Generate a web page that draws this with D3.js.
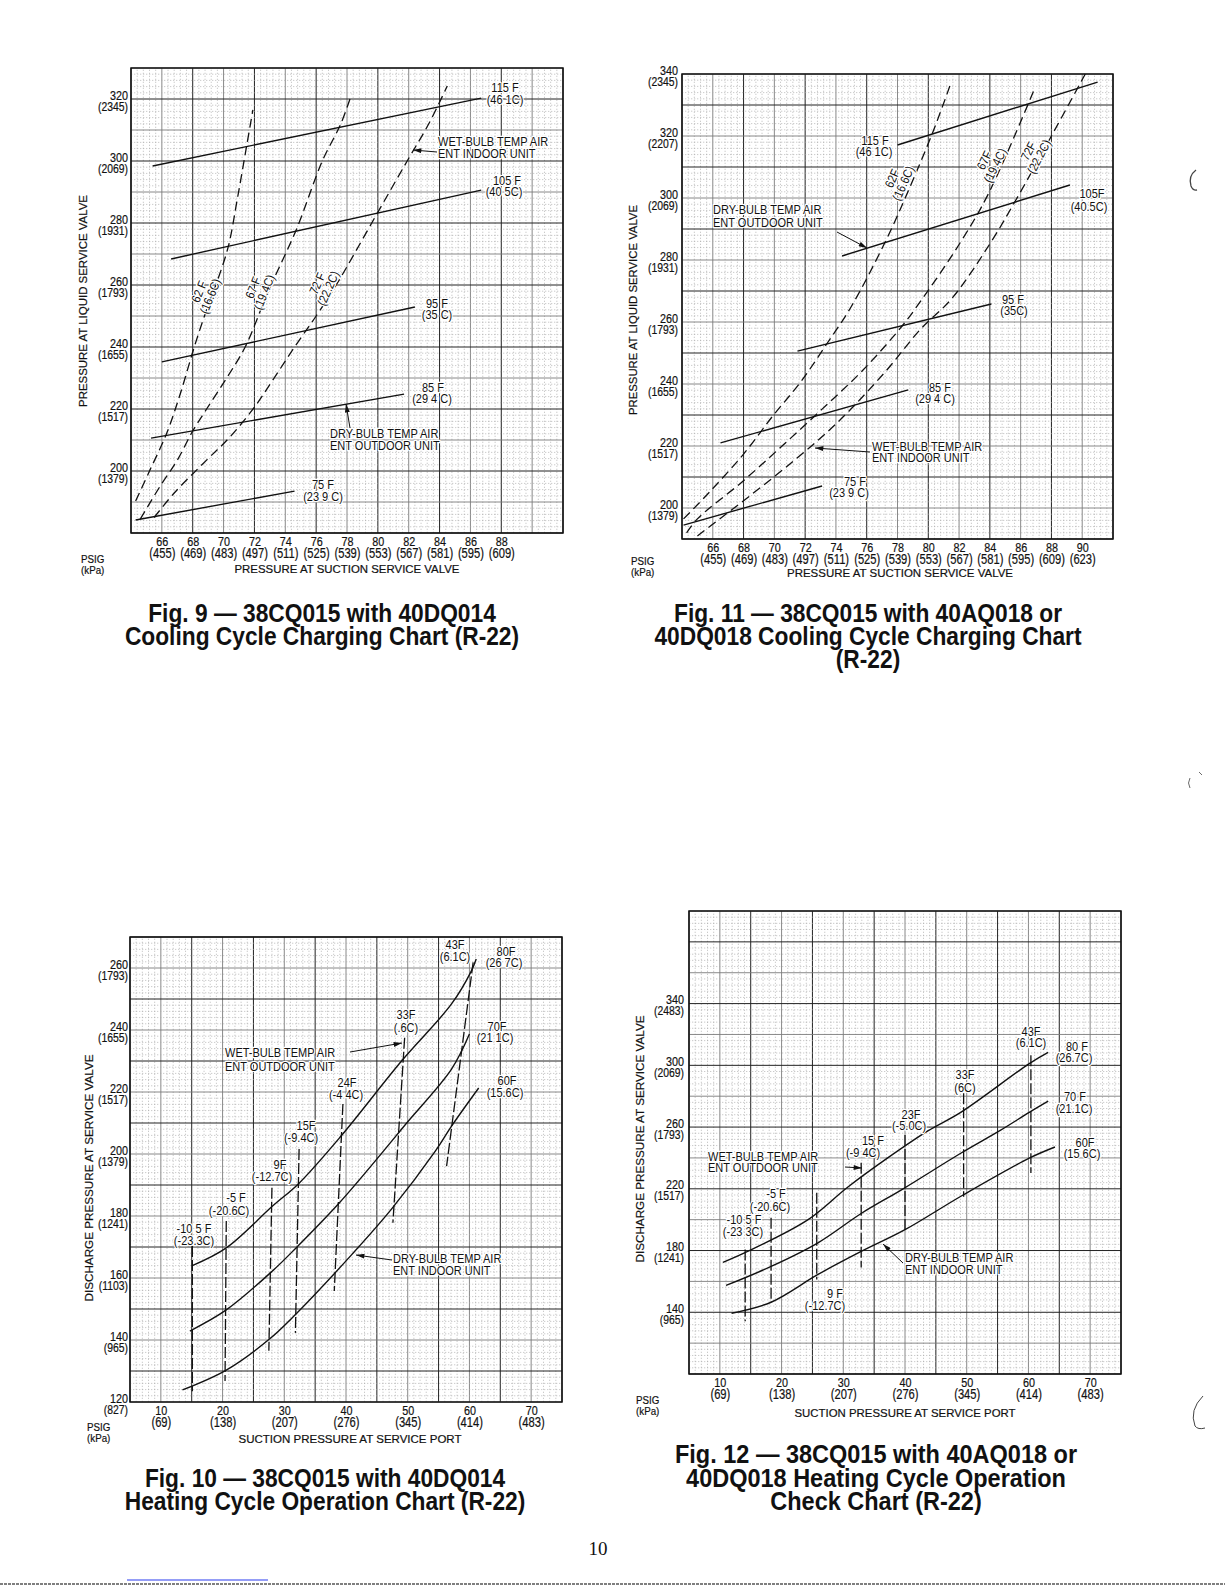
<!DOCTYPE html>
<html>
<head>
<meta charset="utf-8">
<script src="https://cdn.jsdelivr.net/npm/d3@7"></script>
<style>
body { margin: 0; background: #fff; }
svg { display: block; }
text { font-family: "Liberation Sans", Arial, Helvetica, sans-serif; fill: #111; }
.fine { stroke: #a8a8a8; stroke-width: 0.6; stroke-dasharray: 1.3 1.7; }
.mid { stroke: #7c7c7c; stroke-width: 0.9; }
.major { stroke: #222; stroke-width: 1; }
.frame { fill: none; stroke: #111; stroke-width: 1.5; }
.solid { fill: none; stroke: #111; stroke-width: 1.4; }
.dash { fill: none; stroke: #111; stroke-width: 1.3; stroke-dasharray: 9 5; }
.vdash { fill: none; stroke: #111; stroke-width: 1.3; stroke-dasharray: 11 3; }
.arrow { fill: none; stroke: #111; stroke-width: 1; }
.tick-num { font-size: 13.5px; stroke: #111; stroke-width: 0.2px; }
.tick-kpa { font-size: 13px; stroke: #111; stroke-width: 0.2px; }
.xk { font-size: 14px; }
.note { font-size: 12.5px; paint-order: stroke; stroke: #fff; stroke-width: 2.5px; stroke-linejoin: round; }
.title { font-size: 11.5px; stroke: #111; stroke-width: 0.2px; }
.psig { font-size: 11.5px; stroke: #111; stroke-width: 0.2px; }
.caption { font-size: 25px; font-weight: bold; }
</style>
</head>
<body>
<svg id="page"></svg>
<script>
// ---------- Fig. 9 : 38CQ015 with 40DQ014, cooling charging ----------
const fig9XTicks = [66, 68, 70, 72, 74, 76, 78, 80, 82, 84, 86, 88];
const fig9XKpa = ["(455)", "(469)", "(483)", "(497)", "(511)", "(525)", "(539)", "(553)", "(567)", "(581)", "(595)", "(609)"];
const fig9YTicks = [200, 220, 240, 260, 280, 300, 320];
const fig9YKpa = ["(1379)", "(1517)", "(1655)", "(1793)", "(1931)", "(2069)", "(2345)"];
// outdoor dry-bulb lines, [suction psig, liquid psig]
const fig9DryBulb = [
  {name: "115F", pts: [[65.4, 298.4], [86.7, 320.3]]},
  {name: "105F", pts: [[66.6, 268.4], [86.7, 290.6]]},
  {name: "95F", pts: [[66.0, 235.2], [82.4, 252.9]]},
  {name: "85F", pts: [[65.3, 210.6], [81.7, 224.8]]},
  {name: "75F", pts: [[64.3, 184.2], [74.6, 193.5]]}
];
// indoor wet-bulb curves
const fig9WetBulb = [
  {name: "62F", pts: [[64.3, 190.3], [65.2, 200], [66.3, 212], [67.2, 225], [68.1, 240], [68.9, 252], [69.5, 260], [70.3, 272.3], [70.9, 288], [71.5, 305], [71.9, 316.5]]},
  {name: "67F", pts: [[64.6, 184.5], [65.9, 195.2], [67.0, 203.5], [68.0, 212.9], [68.9, 220], [70.2, 230], [71.4, 240], [72.9, 258], [74.7, 277.7], [76.4, 300], [77.6, 312], [78.3, 321.6]]},
  {name: "72F", pts: [[65.5, 185], [66.8, 192.9], [68.9, 203.5], [70.4, 210.9], [72.0, 220.6], [73.2, 229.4], [74.6, 240], [76.0, 250], [77.3, 260], [79.9, 282.6], [81.9, 300], [83.3, 312], [84.5, 324.2]]}
];

// ---------- Fig. 11 : 38CQ015 with 40AQ018 or 40DQ018, cooling charging ----------
const fig11XTicks = [66, 68, 70, 72, 74, 76, 78, 80, 82, 84, 86, 88, 90];
const fig11XKpa = ["(455)", "(469)", "(483)", "(497)", "(511)", "(525)", "(539)", "(553)", "(567)", "(581)", "(595)", "(609)", "(623)"];
const fig11YTicks = [200, 220, 240, 260, 280, 300, 320, 340];
const fig11YKpa = ["(1379)", "(1517)", "(1655)", "(1793)", "(1931)", "(2069)", "(2207)", "(2345)"];
const fig11DryBulb = [
  {name: "115F", pts: [[78.0, 317.1], [91.0, 337.4]]},
  {name: "105F", pts: [[74.4, 281.3], [89.2, 304.2]]},
  {name: "95F", pts: [[71.5, 250.6], [84.1, 265.8]]},
  {name: "85F", pts: [[66.5, 221.0], [78.7, 238.1]]},
  {name: "75F", pts: [[64.1, 194.5], [73.1, 207.1]]}
];
const fig11WetBulb = [
  {name: "62F", pts: [[64.1, 196.5], [65.8, 205.2], [68.0, 217.4], [69.9, 229.7], [71.7, 240.6], [73.4, 252.9], [75.0, 265], [77.2, 285.8], [78.5, 300], [80.3, 321.3], [81.4, 336.1]]},
  {name: "67F", pts: [[64.3, 192], [65.0, 196.5], [67.9, 208.4], [70.5, 220], [73.1, 231.9], [75.7, 244.2], [78.3, 258.7], [79.6, 267.4], [82.0, 285], [83.9, 301.3], [86.9, 335.2]]},
  {name: "72F", pts: [[65.0, 191], [68.4, 203.9], [71.4, 215.8], [74.0, 227.1], [77.2, 243.9], [79.5, 257.7], [81.5, 267.4], [84.0, 285.2], [85.8, 300.3], [88.0, 320], [90.2, 340]]}
];

// ---------- Fig. 10 : 38CQ015 with 40DQ014, heating operation ----------
const fig10XTicks = [10, 20, 30, 40, 50, 60, 70];
const fig10XKpa = ["(69)", "(138)", "(207)", "(276)", "(345)", "(414)", "(483)"];
const fig10YTicks = [120, 140, 160, 180, 200, 220, 240, 260];
const fig10YKpa = ["(827)", "(965)", "(1103)", "(1241)", "(1379)", "(1517)", "(1655)", "(1793)"];
// indoor dry-bulb curves, [suction psig, discharge psig]
const fig10DryBulb = [
  {name: "80F", pts: [[15.0, 163.9], [20.6, 169.7], [28.1, 183.2], [32.4, 190.6], [39.2, 205.8], [49.0, 230], [57.1, 248.4], [60.3, 259], [61.1, 262.9]]},
  {name: "70F", pts: [[14.7, 142.9], [20.6, 149.7], [28.1, 162.3], [31.9, 169.7], [38.9, 184.2], [46.1, 201], [49.7, 209.7], [57.1, 227.4], [60.0, 238.7]]},
  {name: "60F", pts: [[13.5, 123.9], [20.6, 130.3], [27.6, 140.3], [31.9, 148.4], [41.0, 167.7], [47.4, 182.3], [54.5, 201], [57.1, 209], [61.5, 221.3]]}
];
// outdoor wet-bulb lines
const fig10WetBulb = [
  {name: "-10.5F", pts: [[15.1, 170.3], [15.1, 123.5]]},
  {name: "-5F", pts: [[20.6, 178.4], [20.4, 126.8]]},
  {name: "9F", pts: [[28.0, 189.1], [27.5, 136.5]]},
  {name: "15F", pts: [[32.4, 201.6], [31.8, 142.3]]},
  {name: "24F", pts: [[39.5, 216.1], [38.1, 155.8]]},
  {name: "33F", pts: [[49.5, 237.5], [47.6, 177.8]]},
  {name: "43F", pts: [[60.6, 261.8], [56.3, 196.1]]}
];

// ---------- Fig. 12 : 38CQ015 with 40AQ018 or 40DQ018, heating check ----------
const fig12XTicks = [10, 20, 30, 40, 50, 60, 70];
const fig12XKpa = ["(69)", "(138)", "(207)", "(276)", "(345)", "(414)", "(483)"];
const fig12YTicks = [140, 180, 220, 260, 300, 340];
const fig12YKpa = ["(965)", "(1241)", "(1517)", "(1793)", "(2069)", "(2483)"];
const fig12DryBulb = [
  {name: "80F", pts: [[10.5, 172.3], [14.5, 179.4], [24.3, 200], [30.7, 221], [37.2, 240], [43.7, 257.5], [49.1, 269.7], [60.2, 301.3], [63.2, 308.4]]},
  {name: "70F", pts: [[11.0, 157.4], [18.3, 169.7], [25.9, 185], [32.9, 204], [39.7, 220], [49.1, 243.2], [55.5, 258], [60.2, 269.7], [63.2, 276.8]]},
  {name: "60F", pts: [[11.9, 139.4], [18.3, 146.5], [25.9, 164.5], [32.9, 179.4], [40.0, 193.5], [49.2, 215.5], [60.2, 240], [64.3, 247.1]]}
];
const fig12WetBulb = [
  {name: "-10.5F", pts: [[14.1, 180.6], [14.1, 134.2]]},
  {name: "-5F", pts: [[18.3, 201.3], [18.3, 146.5]]},
  {name: "9F", pts: [[25.7, 217.4], [25.7, 161.3]]},
  {name: "15F", pts: [[32.9, 236.8], [32.9, 169]]},
  {name: "23F", pts: [[40.0, 254.8], [40.0, 191.6]]},
  {name: "33F", pts: [[49.5, 281.9], [49.5, 214.8]]},
  {name: "43F", pts: [[60.4, 306.5], [60.4, 230.3]]}
];

const coolTitles = ["PRESSURE AT SUCTION SERVICE VALVE", "PRESSURE AT LIQUID SERVICE VALVE"];
const heatTitles = ["SUCTION PRESSURE AT SERVICE PORT", "DISCHARGE PRESSURE AT SERVICE VALVE"];

const captions = [
  ["Fig. 9 \u2014 38CQ015 with 40DQ014", "Cooling Cycle Charging Chart (R-22)"],
  ["Fig. 11 \u2014 38CQ015 with 40AQ018 or", "40DQ018 Cooling Cycle Charging Chart", "(R-22)"],
  ["Fig. 10 \u2014 38CQ015 with 40DQ014", "Heating Cycle Operation Chart (R-22)"],
  ["Fig. 12 \u2014 38CQ015 with 40AQ018 or", "40DQ018 Heating Cycle Operation", "Check Chart (R-22)"]
];

// ---------- layout ----------
const SX = 0.8;    // condensed look of the scanned lettering
const NX = 0.88;

const fig9Layout = {
  left: 131, top: 68, right: 563, bottom: 533, xDom: [64, 92], yDom: [180, 330],
  grid: {xFine: 0.4, xMid: 2, xMajor: 4, xOff: 0, yFine: 2, yMid: 10, yMajor: 20, yOff: 0},
  wetClass: "dash", yPad: 3, xNum: 13, xKpa: 25,
  yTitle: {x: 87, y: 301, len: 212}, xTitle: {x: 347, y: 573, len: 225}, psig: {x: 81, y: 563},
  notes: [
    ["115 F", 505, 92], ["(46 1C)", 505, 104],
    ["WET-BULB TEMP AIR", 438, 146, "start"], ["ENT  INDOOR UNIT", 438, 158, "start"],
    ["105 F", 507, 185], ["(40 5C)", 504, 196],
    ["95 F", 437, 308], ["(35 C)", 437, 319],
    ["85 F", 433, 392], ["(29 4 C)", 432, 403],
    ["DRY-BULB  TEMP AIR", 330, 438, "start"], ["ENT OUTDOOR UNIT", 330, 450, "start"],
    ["75 F", 323, 489], ["(23 9 C)", 323, 501]
  ],
  rot: [["62 F", "(16.6C)", 205, 294, -68], ["67 F", "(19.4C)", 259, 290, -68], ["72 F", "(22.2C)", 323, 286, -66]],
  arrows: [[437, 152, 413, 150], [350, 428, 346, 404]]
};

const fig11Layout = {
  left: 682, top: 74, right: 1113, bottom: 539, xDom: [64, 92], yDom: [190, 340],
  grid: {xFine: 0.4, xMid: 2, xMajor: 4, xOff: 0, yFine: 2, yMid: 10, yMajor: 20, yOff: 10},
  wetClass: "dash", yPad: 4, xNum: 13, xKpa: 25,
  yTitle: {x: 637, y: 310, len: 210}, xTitle: {x: 900, y: 577, len: 226}, psig: {x: 631, y: 565},
  notes: [
    ["115 F", 875, 145], ["(46 1C)", 874, 156],
    ["DRY-BULB TEMP AIR", 713, 214, "start"], ["ENT OUTDOOR UNIT", 713, 227, "start"],
    ["105F", 1092, 198], ["(40.5C)", 1089, 211],
    ["95 F", 1013, 304], ["(35C)", 1014, 315],
    ["85 F", 940, 392], ["(29 4 C)", 935, 403],
    ["WET-BULB TEMP AIR", 872, 451, "start"], ["ENT INDOOR UNIT", 872, 462, "start"],
    ["75 F", 855, 486], ["(23 9 C)", 849, 497]
  ],
  rot: [["62F", "(16.6C)", 898, 181, -66], ["67F", "(19.4C)", 990, 163, -64], ["72F", "(22.2C)", 1034, 154, -62]],
  arrows: [[837, 232, 867, 248], [870, 452, 815, 448]]
};

const fig10Layout = {
  left: 130, top: 937, right: 562, bottom: 1402, xDom: [5, 75], yDom: [120, 270],
  grid: {xFine: 1, xMid: 5, xMajor: 10, xOff: 5, yFine: 2, yMid: 10, yMajor: 20, yOff: 10},
  wetClass: "vdash", yPad: 2, xNum: 13, xKpa: 25,
  yTitle: {x: 93, y: 1178, len: 247}, xTitle: {x: 350, y: 1443, len: 223}, psig: {x: 87, y: 1431},
  notes: [
    ["43F", 455, 949], ["(6.1C)", 455, 961],
    ["80F", 506, 956], ["(26 7C)", 504, 967],
    ["33F", 406, 1019], ["(.6C)", 406, 1032],
    ["70F", 497, 1031], ["(21 1C)", 495, 1042],
    ["WET-BULB TEMP AIR", 225, 1057, "start"], ["ENT OUTDOOR UNIT", 225, 1071, "start"],
    ["24F", 347, 1087], ["(-4 4C)", 346, 1099],
    ["60F", 507, 1085], ["(15.6C)", 505, 1097],
    ["15F", 306, 1130], ["(-9.4C)", 301, 1142],
    ["9F", 280, 1169], ["(-12.7C)", 272, 1181],
    ["-5 F", 236, 1202], ["(-20.6C)", 229, 1215],
    ["-10 5 F", 194, 1233], ["(-23.3C)", 194, 1245],
    ["DRY-BULB TEMP AIR", 393, 1263, "start"], ["ENT INDOOR UNIT", 393, 1275, "start"]
  ],
  rot: [],
  arrows: [[350, 1052, 402, 1043], [392, 1260, 356, 1255]]
};

const fig12Layout = {
  left: 689, top: 911, right: 1121, bottom: 1374, xDom: [5, 75], yDom: [100, 400],
  grid: {xFine: 1, xMid: 5, xMajor: 10, xOff: 5, yFine: 4, yMid: 20, yMajor: 40, yOff: 20},
  wetClass: "vdash", yPad: 5, xNum: 13, xKpa: 25,
  yTitle: {x: 644, y: 1139, len: 247}, xTitle: {x: 905, y: 1417, len: 221}, psig: {x: 636, y: 1404},
  notes: [
    ["43F", 1031, 1036], ["(6.1C)", 1031, 1047],
    ["80 F", 1077, 1051], ["(26.7C)", 1074, 1062],
    ["33F", 965, 1079], ["(6C)", 965, 1092],
    ["70 F", 1075, 1101], ["(21.1C)", 1074, 1113],
    ["23F", 911, 1119], ["(-5.0C)", 909, 1130],
    ["60F", 1085, 1147], ["(15 6C)", 1082, 1158],
    ["15 F", 873, 1145], ["(-9 4C)", 863, 1157],
    ["WET-BULB  TEMP AIR", 708, 1161, "start"], ["ENT OUTDOOR UNIT", 708, 1172, "start"],
    ["-5 F", 776, 1198], ["(-20.6C)", 770, 1211],
    ["-10 5 F", 744, 1224], ["(-23 3C)", 743, 1236],
    ["DRY-BULB TEMP AIR", 905, 1262, "start"], ["ENT INDOOR UNIT", 905, 1274, "start"],
    ["9 F", 835, 1298], ["(-12.7C)", 825, 1310]
  ],
  rot: [],
  arrows: [[845, 1167, 862, 1168], [903, 1263, 883, 1244]]
};

const captionLayout = [
  {x: 322, y: [622, 645], sx: 0.91},
  {x: 868, y: [622, 645, 668], sx: 0.91},
  {x: 325, y: [1487, 1510], sx: 0.91},
  {x: 876, y: [1463, 1487, 1510], sx: 0.94}
];

// ---------- drawing ----------
const svg = d3.select("#page").attr("width", 1225).attr("height", 1585).attr("viewBox", "0 0 1225 1585");

svg.append("defs").append("marker")
  .attr("id", "head").attr("viewBox", "0 0 10 6").attr("refX", 10).attr("refY", 3)
  .attr("markerWidth", 9).attr("markerHeight", 5).attr("markerUnits", "userSpaceOnUse").attr("orient", "auto")
  .append("path").attr("d", "M0,0L10,3L0,6Z").attr("fill", "#111");

function gridValues(dom, step) {
  const n = Math.round((dom[1] - dom[0]) / step);
  return d3.range(n + 1).map(i => dom[0] + i * step);
}

function isMultiple(v, step, off) {
  const r = (v - off) / step;
  return Math.abs(r - Math.round(r)) < 1e-6;
}

function graphPaper(g, x, y, p) {
  const kind = (v, mid, major, off) => isMultiple(v, major, off) ? "major" : isMultiple(v, mid, 0) ? "mid" : "fine";
  const xs = gridValues(x.domain(), p.xFine).map(v => ({v, k: kind(v, p.xMid, p.xMajor, p.xOff)}));
  const ys = gridValues(y.domain(), p.yFine).map(v => ({v, k: kind(v, p.yMid, p.yMajor, p.yOff)}));
  g.append("g").selectAll("line").data(xs).join("line")
    .attr("class", d => d.k)
    .attr("x1", d => x(d.v)).attr("x2", d => x(d.v))
    .attr("y1", y.range()[0]).attr("y2", y.range()[1]);
  g.append("g").selectAll("line").data(ys).join("line")
    .attr("class", d => d.k)
    .attr("y1", d => y(d.v)).attr("y2", d => y(d.v))
    .attr("x1", x.range()[0]).attr("x2", x.range()[1]);
  // heavier rules on top of the dotted paper
  g.selectAll(".mid").raise();
  g.selectAll(".major").raise();
}

function note(g, t, x, y, anchor) {
  g.append("text").attr("class", "note")
    .attr("text-anchor", anchor || "middle")
    .attr("transform", `translate(${x},${y}) scale(${NX},1)`)
    .text(t);
}

function drawChart(L, D) {
  const x = d3.scaleLinear().domain(L.xDom).range([L.left, L.right]);
  const y = d3.scaleLinear().domain(L.yDom).range([L.bottom, L.top]);
  const g = svg.append("g");

  graphPaper(g.append("g"), x, y, L.grid);
  g.append("rect").attr("class", "frame")
    .attr("x", L.left).attr("y", L.top)
    .attr("width", L.right - L.left).attr("height", L.bottom - L.top);

  // left axis: psig just above the rule, kPa just below
  const yAxisG = g.append("g").attr("transform", `translate(${L.left},0)`)
    .call(d3.axisLeft(y).tickValues(D.yTicks).tickSize(0).tickPadding(0));
  yAxisG.attr("font-family", null).attr("font-size", null);
  yAxisG.select(".domain").remove();
  yAxisG.selectAll(".tick line").remove();
  yAxisG.selectAll(".tick text")
    .attr("class", "tick-num").attr("x", null).attr("dy", null)
    .attr("transform", `translate(${-L.yPad},0) scale(${SX},1)`);
  yAxisG.selectAll(".tick").append("text")
    .attr("class", "tick-kpa").attr("text-anchor", "end")
    .attr("transform", `translate(${-L.yPad},11) scale(${SX},1)`)
    .text((d, i) => D.yKpa[i]);

  // bottom axis
  const xAxisG = g.append("g").attr("transform", `translate(0,${L.bottom})`)
    .call(d3.axisBottom(x).tickValues(D.xTicks).tickSize(0).tickPadding(0));
  xAxisG.attr("font-family", null).attr("font-size", null);
  xAxisG.select(".domain").remove();
  xAxisG.selectAll(".tick line").remove();
  xAxisG.selectAll(".tick text")
    .attr("class", "tick-num").attr("y", null).attr("dy", null)
    .attr("transform", `translate(0,${L.xNum}) scale(${SX},1)`);
  xAxisG.selectAll(".tick").append("text")
    .attr("class", "tick-kpa xk").attr("text-anchor", "middle")
    .attr("transform", `translate(0,${L.xKpa}) scale(${SX},1)`)
    .text((d, i) => D.xKpa[i]);

  // axis titles
  g.append("text").attr("class", "title").attr("text-anchor", "middle")
    .attr("x", L.xTitle.x).attr("y", L.xTitle.y)
    .attr("textLength", L.xTitle.len).attr("lengthAdjust", "spacingAndGlyphs")
    .text(D.titles[0]);
  g.append("text").attr("class", "title").attr("text-anchor", "middle")
    .attr("transform", `translate(${L.yTitle.x},${L.yTitle.y}) rotate(-90)`)
    .attr("textLength", L.yTitle.len).attr("lengthAdjust", "spacingAndGlyphs")
    .text(D.titles[1]);
  g.append("text").attr("class", "psig")
    .attr("transform", `translate(${L.psig.x},${L.psig.y}) scale(0.85,1)`).text("PSIG");
  g.append("text").attr("class", "psig")
    .attr("transform", `translate(${L.psig.x},${L.psig.y + 11}) scale(0.85,1)`).text("(kPa)");

  // data lines
  const path = d3.line().x(d => x(d[0])).y(d => y(d[1])).curve(d3.curveCatmullRom.alpha(0.5));
  g.append("g").selectAll("path").data(D.dry).join("path")
    .attr("class", "solid").attr("d", d => path(d.pts));
  g.append("g").selectAll("path").data(D.wet).join("path")
    .attr("class", L.wetClass).attr("d", d => path(d.pts));

  // callouts
  const ng = g.append("g");
  L.arrows.forEach(a => {
    ng.append("line").attr("class", "arrow")
      .attr("x1", a[0]).attr("y1", a[1]).attr("x2", a[2]).attr("y2", a[3])
      .attr("marker-end", "url(#head)");
  });
  L.notes.forEach(n => note(ng, n[0], n[1], n[2], n[3]));
  L.rot.forEach(r => {
    const rg = ng.append("g").attr("transform", `translate(${r[2]},${r[3]}) rotate(${r[4]})`);
    note(rg, r[0], 0, -2);
    note(rg, r[1], 0, 10);
  });
}

drawChart(fig9Layout, {xTicks: fig9XTicks, xKpa: fig9XKpa, yTicks: fig9YTicks, yKpa: fig9YKpa, dry: fig9DryBulb, wet: fig9WetBulb, titles: coolTitles});
drawChart(fig11Layout, {xTicks: fig11XTicks, xKpa: fig11XKpa, yTicks: fig11YTicks, yKpa: fig11YKpa, dry: fig11DryBulb, wet: fig11WetBulb, titles: coolTitles});
drawChart(fig10Layout, {xTicks: fig10XTicks, xKpa: fig10XKpa, yTicks: fig10YTicks, yKpa: fig10YKpa, dry: fig10DryBulb, wet: fig10WetBulb, titles: heatTitles});
drawChart(fig12Layout, {xTicks: fig12XTicks, xKpa: fig12XKpa, yTicks: fig12YTicks, yKpa: fig12YKpa, dry: fig12DryBulb, wet: fig12WetBulb, titles: heatTitles});

// captions (bold, slightly condensed)
captions.forEach((lines, i) => {
  const c = captionLayout[i];
  lines.forEach((t, j) => {
    svg.append("text").attr("class", "caption").attr("text-anchor", "middle")
      .attr("transform", `translate(${c.x},${c.y[j]}) scale(${c.sx},1)`).text(t);
  });
});

// page furniture
svg.append("text").attr("x", 598).attr("y", 1555).attr("text-anchor", "middle")
  .style("font-family", "'Liberation Serif', 'Times New Roman', serif").style("font-size", "19px")
  .text("10");
svg.append("line").attr("x1", 127).attr("x2", 268).attr("y1", 1580).attr("y2", 1580)
  .attr("stroke", "#2a3cf0").attr("stroke-width", 1.2);
svg.append("line").attr("x1", 0).attr("x2", 1225).attr("y1", 1584).attr("y2", 1584)
  .attr("stroke", "#555").attr("stroke-width", 1.5).attr("stroke-dasharray", "3 1");

// scan specks in the right margin
const specks = svg.append("g").attr("fill", "none").attr("stroke", "#444").attr("stroke-width", 1.3);
specks.append("path").attr("d", "M1196,170 q-8,6 -5,16 q2,5 6,4");
specks.append("path").attr("d", "M1190,778 q-3,5 0,10").attr("stroke-width", 0.8);
specks.append("path").attr("d", "M1199,772 l3,3").attr("stroke-width", 0.8);
specks.append("path").attr("d", "M1203,1396 q-14,14 -8,30 q3,4 10,2").attr("stroke-width", 1);
</script>
</body>
</html>
